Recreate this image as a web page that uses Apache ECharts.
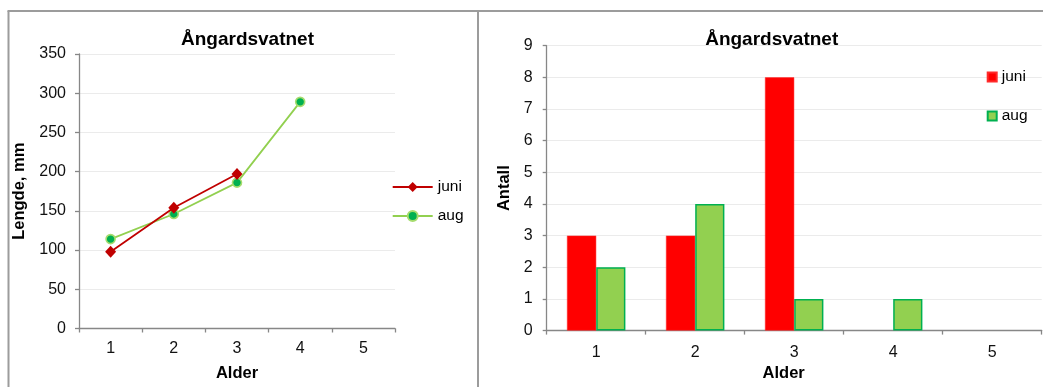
<!DOCTYPE html>
<html>
<head>
<meta charset="utf-8">
<script src="https://cdn.jsdelivr.net/npm/echarts@6/dist/echarts.min.js"></script>
<style>
  html, body { margin: 0; padding: 0; background: #fff; }
  #wrap { position: relative; width: 1043px; height: 387px; overflow: hidden; }
  #left { position: absolute; left: 0; top: 0; width: 479px; height: 387px; }
  #right { position: absolute; left: 479px; top: 0; width: 564px; height: 387px; }
</style>
</head>
<body>
<div id="wrap"><div id="left"></div><div id="right"></div></div>
<script>
// ---- Data ----
const chartTitle = 'Ångardsvatnet';
const ageCategories = ['1', '2', '3', '4', '5'];
const seriesNames = ['juni', 'aug'];
// Left chart: length (mm) by age
const lengthJuni = [98, 154, 197, null, null];
const lengthAug = [114, 146, 186, 289, null];
// Right chart: count by age
const countJuni = [3, 3, 8, null, null];
const countAug = [2, 4, 1, 1, null];
const xAxisName = 'Alder';
const yNameLength = 'Lengde, mm';
const yNameCount = 'Antall';

const FONT = "'Liberation Sans', Arial, sans-serif";
const AXIS_COLOR = '#878787';
const GRID_COLOR = '#ebebeb';
const BORDER_COLOR = '#9c9c9c';

function axisCommon() {
  return {
    axisLine: { show: true, lineStyle: { color: AXIS_COLOR, width: 1.3 } },
    axisTick: { show: true, length: 4, lineStyle: { color: AXIS_COLOR, width: 1.3 } },
    axisLabel: { color: '#111', fontSize: 16, fontFamily: FONT },
    nameTextStyle: { color: '#000', fontSize: 16.5, fontWeight: 'bold', fontFamily: FONT }
  };
}

// ---- Left chart ----
const left = echarts.init(document.getElementById('left'), null, { renderer: 'canvas' });
left.setOption({
  animation: false,
  title: {
    text: chartTitle, left: 242.5, top: 25, textAlign: 'center',
    textStyle: { fontSize: 19, fontWeight: 'bold', color: '#000', fontFamily: FONT }
  },
  graphic: [
    { type: 'line', shape: { x1: 8.5, y1: 11, x2: 8.5, y2: 390 }, style: { stroke: BORDER_COLOR, lineWidth: 2 }, silent: true },
    { type: 'line', shape: { x1: 7.5, y1: 11, x2: 480, y2: 11 }, style: { stroke: BORDER_COLOR, lineWidth: 2 }, silent: true },
    { type: 'line', shape: { x1: 478, y1: 11, x2: 478, y2: 390 }, style: { stroke: BORDER_COLOR, lineWidth: 2 }, silent: true }
  ],
  legend: {
    orient: 'vertical', left: 386.7, top: 174,
    itemWidth: 40, itemHeight: 12.5, itemGap: 13,
    textStyle: { fontSize: 15.5, color: '#000', fontFamily: FONT },
    data: seriesNames
  },
  grid: { left: 79, top: 54, width: 316, height: 277, containLabel: false },
  xAxis: Object.assign(axisCommon(), {
    type: 'category', data: ageCategories, boundaryGap: true,
    name: xAxisName, nameLocation: 'middle', nameGap: 36.5,
    axisLabel: { color: '#111', fontSize: 16, fontFamily: FONT, margin: 12 },
    splitLine: { show: false }
  }),
  yAxis: Object.assign(axisCommon(), {
    type: 'value', min: 0, max: 350, interval: 50,
    name: yNameLength, nameLocation: 'middle', nameGap: 46.5,
    axisLabel: { color: '#111', fontSize: 16, fontFamily: FONT, margin: 13 },
    splitLine: { show: true, lineStyle: { color: GRID_COLOR, width: 1 } }
  }),
  series: [
    {
      name: seriesNames[0], type: 'line', data: lengthJuni,
      symbol: 'diamond', symbolSize: [11, 12],
      lineStyle: { color: '#C00000', width: 1.8 },
      itemStyle: { color: '#C00000', borderColor: '#C00000', borderWidth: 0 },
      z: 3
    },
    {
      name: seriesNames[1], type: 'line', data: lengthAug,
      symbol: 'circle', symbolSize: 9,
      lineStyle: { color: '#92D050', width: 1.8 },
      itemStyle: { color: '#00B050', borderColor: '#A6DC6E', borderWidth: 1.6 },
      z: 2
    }
  ]
});

// ---- Right chart ----
const right = echarts.init(document.getElementById('right'), null, { renderer: 'canvas' });
right.setOption({
  animation: false,
  title: {
    text: chartTitle, left: 287.7, top: 25, textAlign: 'center',
    textStyle: { fontSize: 19, fontWeight: 'bold', color: '#000', fontFamily: FONT }
  },
  graphic: [
    { type: 'line', shape: { x1: 0, y1: 11, x2: 564, y2: 11 }, style: { stroke: BORDER_COLOR, lineWidth: 2 }, silent: true }
  ],
  legend: {
    orient: 'vertical', left: 502.7, top: 64,
    itemWidth: 9, itemHeight: 9, itemGap: 23,
    textStyle: { fontSize: 15.5, color: '#000', fontFamily: FONT },
    data: [
      { name: seriesNames[0], icon: 'rect' },
      { name: seriesNames[1], icon: 'rect' }
    ]
  },
  grid: { left: 67.7, top: 45.7, width: 495, height: 289.3, containLabel: false },
  xAxis: Object.assign(axisCommon(), {
    type: 'category', data: ageCategories, boundaryGap: true,
    name: xAxisName, nameLocation: 'middle', nameGap: 34.4,
    nameTextStyle: { color: '#000', fontSize: 16.5, fontWeight: 'bold', fontFamily: FONT, padding: [0, 21, 0, 0] },
    axisLabel: { color: '#111', fontSize: 16, fontFamily: FONT, margin: 13.5 },
    splitLine: { show: false }
  }),
  yAxis: Object.assign(axisCommon(), {
    type: 'value', min: 0, max: 9, interval: 1,
    name: yNameCount, nameLocation: 'middle', nameGap: 28.4,
    axisLabel: { color: '#111', fontSize: 16, fontFamily: FONT, margin: 14 },
    splitLine: { show: true, lineStyle: { color: GRID_COLOR, width: 1 } }
  }),
  series: [
    {
      name: seriesNames[0], type: 'bar', data: countJuni,
      barGap: '0%', barCategoryGap: '41%',
      itemStyle: { color: '#FF0000', borderColor: '#FF2a2a', borderWidth: 0.5 }
    },
    {
      name: seriesNames[1], type: 'bar', data: countAug,
      barGap: '0%', barCategoryGap: '41%',
      itemStyle: { color: '#92D050', borderColor: '#00B050', borderWidth: 1.5 }
    }
  ]
});
</script>
</body>
</html>
